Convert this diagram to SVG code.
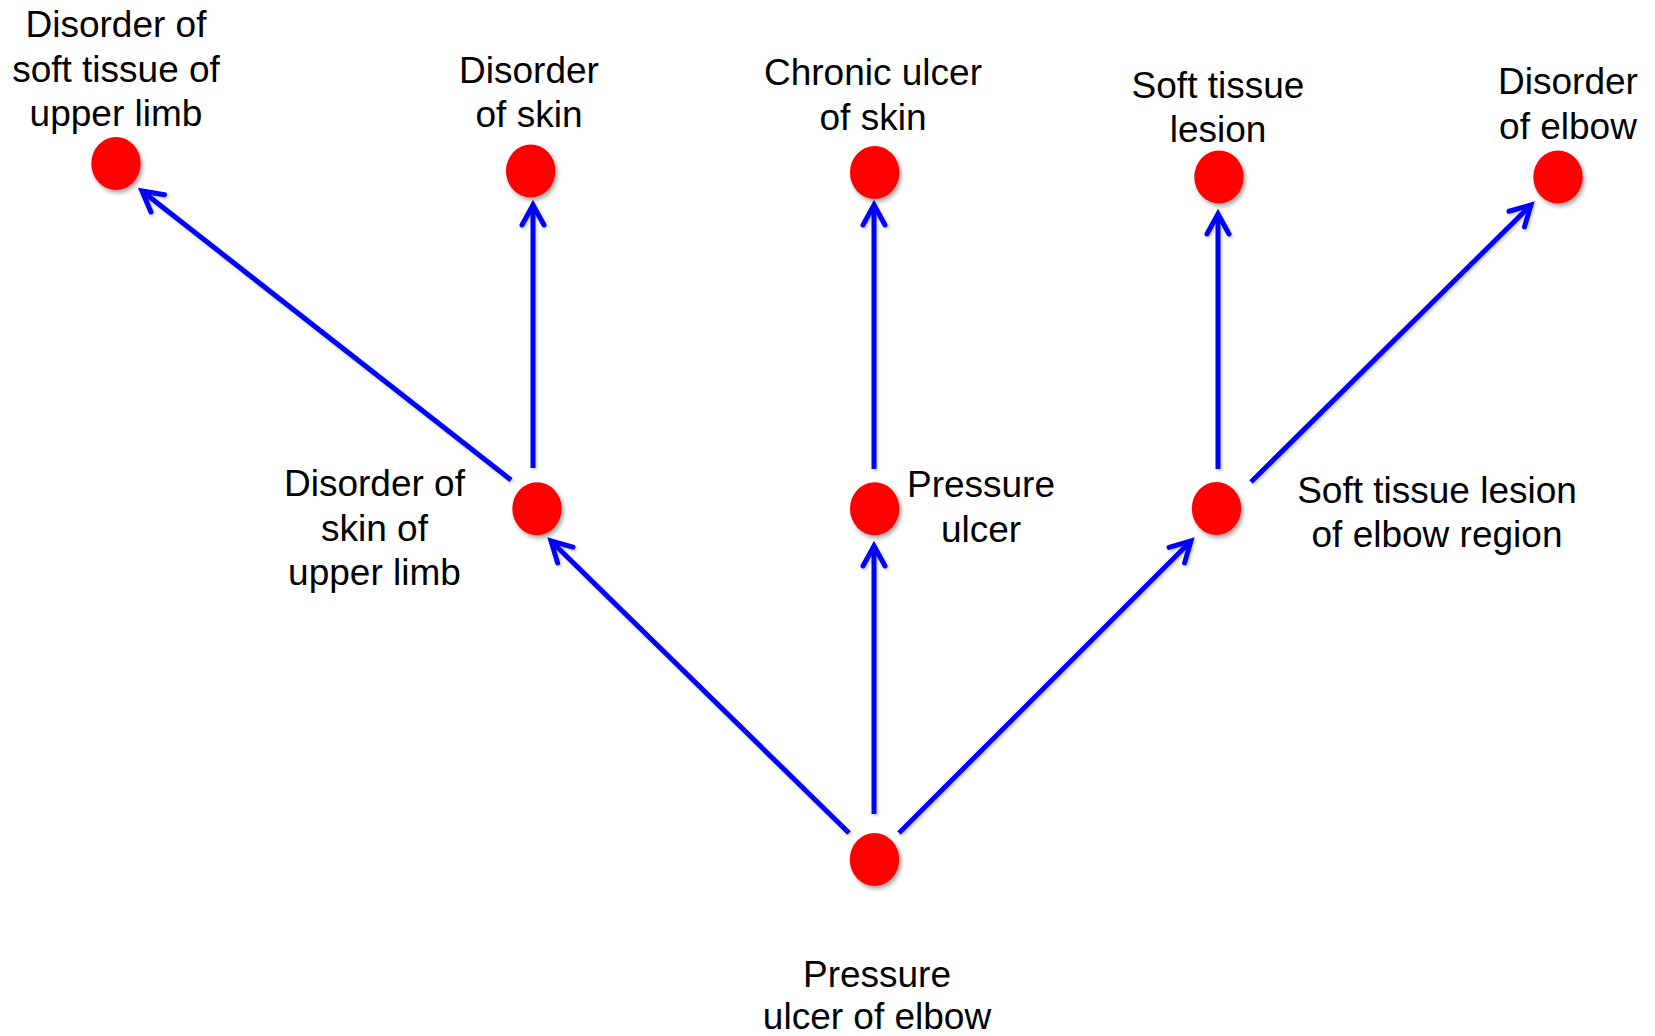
<svg xmlns="http://www.w3.org/2000/svg" width="1655" height="1036" viewBox="0 0 1655 1036">
<defs>
<style>
.node{fill:#FF0000;filter:url(#sh);}
.lbl{font-family:"Liberation Sans",Arial,sans-serif;font-size:37px;fill:#000;text-anchor:middle;}
.edge{stroke:#0000FF;stroke-width:5;fill:none;marker-end:url(#arr);}
</style>
<filter id="sh" x="-30%" y="-30%" width="170%" height="170%">
<feDropShadow dx="2" dy="3" stdDeviation="2" flood-color="#000" flood-opacity="0.35"/>
</filter>
<filter id="lsh" x="-10%" y="-10%" width="120%" height="120%">
<feDropShadow dx="1.5" dy="2" stdDeviation="1.5" flood-color="#000" flood-opacity="0.2"/>
</filter>
<marker id="arr" markerUnits="userSpaceOnUse" markerWidth="40" markerHeight="40" viewBox="-30 -20 40 40" refX="0" refY="0" orient="auto" overflow="visible">
<path d="M-20,-11 L0,0 L-20,11" fill="none" stroke="#0000FF" stroke-width="5" stroke-linecap="round"/>
</marker>
</defs>
<rect width="1655" height="1036" fill="#FFFFFF"/>
<g id="connectors" filter="url(#lsh)">
<line class="edge" x1="511" y1="480" x2="142" y2="191"/>
<line class="edge" x1="533" y1="468" x2="533" y2="205"/>
<line class="edge" x1="874" y1="469" x2="874" y2="205"/>
<line class="edge" x1="1218" y1="469" x2="1218" y2="214"/>
<line class="edge" x1="1251" y1="482" x2="1531" y2="205"/>
<line class="edge" x1="849" y1="833" x2="551" y2="541"/>
<line class="edge" x1="874" y1="814" x2="874" y2="546"/>
<line class="edge" x1="899" y1="833" x2="1191" y2="541"/>
</g>
<g id="n-soft-tissue-upper-limb">
<ellipse class="node" cx="116" cy="163.5" rx="24.7" ry="26.5"/>
<text class="lbl" x="116" y="37">Disorder of</text>
<text class="lbl" x="116" y="81.5">soft tissue of</text>
<text class="lbl" x="116" y="126">upper limb</text>
</g>
<g id="n-disorder-of-skin">
<ellipse class="node" cx="530.7" cy="171" rx="24.7" ry="26.5"/>
<text class="lbl" x="529" y="83">Disorder</text>
<text class="lbl" x="529" y="127">of skin</text>
</g>
<g id="n-chronic-ulcer">
<ellipse class="node" cx="874.7" cy="172.5" rx="24.7" ry="26.5"/>
<text class="lbl" x="873" y="85">Chronic ulcer</text>
<text class="lbl" x="873" y="130">of skin</text>
</g>
<g id="n-soft-tissue-lesion">
<ellipse class="node" cx="1219" cy="177" rx="24.7" ry="26.5"/>
<text class="lbl" x="1218" y="98">Soft tissue</text>
<text class="lbl" x="1218" y="142">lesion</text>
</g>
<g id="n-disorder-of-elbow">
<ellipse class="node" cx="1558" cy="177" rx="24.7" ry="26.5"/>
<text class="lbl" x="1568" y="93.5">Disorder</text>
<text class="lbl" x="1568" y="138.5">of elbow</text>
</g>
<g id="n-skin-upper-limb">
<ellipse class="node" cx="537" cy="508.7" rx="24.7" ry="26.5"/>
<text class="lbl" x="374.5" y="496">Disorder of</text>
<text class="lbl" x="374.5" y="541">skin of</text>
<text class="lbl" x="374.5" y="585">upper limb</text>
</g>
<g id="n-pressure-ulcer">
<ellipse class="node" cx="874.7" cy="508.7" rx="24.7" ry="26.5"/>
<text class="lbl" x="981" y="497">Pressure</text>
<text class="lbl" x="981" y="541.5">ulcer</text>
</g>
<g id="n-soft-tissue-lesion-elbow">
<ellipse class="node" cx="1216.5" cy="508.5" rx="24.7" ry="26.5"/>
<text class="lbl" x="1437" y="503">Soft tissue lesion</text>
<text class="lbl" x="1437" y="546.5">of elbow region</text>
</g>
<g id="n-pressure-ulcer-elbow">
<ellipse class="node" cx="874.5" cy="859.5" rx="24.7" ry="26.5"/>
<text class="lbl" x="877" y="987">Pressure</text>
<text class="lbl" x="877" y="1029">ulcer of elbow</text>
</g>
</svg>
